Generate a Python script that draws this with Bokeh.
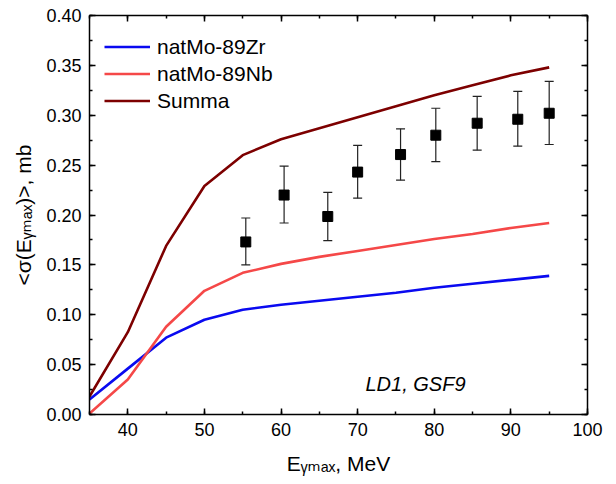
import math
from bokeh.plotting import figure
from bokeh.models import (Range1d, LinearAxis, SingleIntervalTicker, PrintfTickFormatter,
                          Legend, LegendItem, Label, Whisker, TeeHead, ColumnDataSource)
from bokeh.embed import file_html
from bokeh.resources import INLINE

# ---- data ----
e_calc = [35, 40, 45, 50, 55, 60, 65, 70, 75, 80, 85, 90, 95]
zr89 = [0.015, 0.046, 0.077, 0.095, 0.105, 0.110, 0.114, 0.118, 0.122, 0.127, 0.131, 0.135, 0.139]
nb89 = [0.001, 0.035, 0.088, 0.124, 0.142, 0.151, 0.158, 0.164, 0.170, 0.176, 0.181, 0.187, 0.192]
summa = [0.018, 0.0825, 0.169, 0.229, 0.260, 0.276, 0.287, 0.298, 0.309, 0.320, 0.330, 0.340, 0.348]

e_exp = [55.4, 60.4, 66.1, 70.0, 75.6, 80.2, 85.6, 90.9, 95.0]
y_exp = [0.173, 0.220, 0.1985, 0.243, 0.2606, 0.280, 0.292, 0.296, 0.302]
y_up = [0.197, 0.249, 0.2226, 0.2697, 0.2864, 0.307, 0.319, 0.324, 0.334]
y_lo = [0.150, 0.192, 0.1744, 0.2169, 0.2349, 0.2536, 0.265, 0.269, 0.2707]

series_names = ["natMo-89Zr", "natMo-89Nb", "Summa"]
x_title = "Eᵧₘₐₓ, MeV"
y_title = "<σ(Eᵧₘₐₓ)>, mb"
note = "LD1, GSF9"

# ---- layout ----
W, H = 616, 484
FL, FR, FT, FB = 89, 587, 15, 414
X0, X1, Y0, Y1 = 35, 100, 0.0, 0.4
FONT = "Liberation Sans"

def dx(cx):
    return X0 + (cx - FL) / (FR - FL) * (X1 - X0)

def dy(cy):
    return Y0 + (FB - cy) / (FB - FT) * (Y1 - Y0)

p = figure(width=W, height=H, output_backend="svg", toolbar_location=None,
           x_range=Range1d(X0, X1), y_range=Range1d(Y0, Y1),
           min_border_left=FL, min_border_right=W - FR,
           min_border_top=FT, min_border_bottom=H - FB,
           x_axis_location=None, y_axis_location=None)
p.grid.visible = False
p.outline_line_color = None
p.background_fill_color = "white"
p.border_fill_color = "white"

def style_axis(ax, labels=True):
    ax.axis_line_color = "black"
    ax.axis_line_width = 1.5
    ax.major_tick_line_color = "black"
    ax.minor_tick_line_color = "black"
    ax.major_tick_line_width = 1.5
    ax.minor_tick_line_width = 1.5
    ax.major_tick_in = 6
    ax.major_tick_out = 0
    ax.minor_tick_in = 3
    ax.minor_tick_out = 0
    ax.major_label_text_font = FONT
    if labels:
        ax.major_label_text_color = "black"
        ax.major_label_text_font_size = "18px"
        ax.major_label_standoff = 8
    else:
        ax.major_label_text_color = None
        ax.major_label_text_font_size = "2px"
        ax.major_label_standoff = 0
    ax.axis_label_text_font = FONT + ", DejaVu Sans"
    ax.axis_label_text_font_style = "normal"
    ax.axis_label_text_color = "black"
    ax.axis_label_text_font_size = "21px"

bx = LinearAxis(ticker=SingleIntervalTicker(interval=10, num_minor_ticks=2), axis_label=x_title)
style_axis(bx)
bx.axis_label_standoff = 13
p.add_layout(bx, "below")
tx = LinearAxis(ticker=SingleIntervalTicker(interval=10, num_minor_ticks=2))
style_axis(tx, labels=False)
p.add_layout(tx, "above")

ly = LinearAxis(ticker=SingleIntervalTicker(interval=0.05, num_minor_ticks=2),
                formatter=PrintfTickFormatter(format="%.2f"), axis_label=y_title)
style_axis(ly)
ly.axis_label_standoff = 8
p.add_layout(ly, "left")
ry = LinearAxis(ticker=SingleIntervalTicker(interval=0.05, num_minor_ticks=2))
style_axis(ry, labels=False)
p.add_layout(ry, "right")

colors = ["#0a0af0", "#f54848", "#7d0000"]
renderers = []
for ys, c in zip([zr89, nb89, summa], colors):
    r = p.line(e_calc, ys, line_color=c, line_width=2.6)
    renderers.append(r)

src = ColumnDataSource(dict(x=e_exp, y=y_exp, up=y_up, lo=y_lo))
wh = Whisker(source=src, base="x", upper="up", lower="lo", line_color="#222222", line_width=1.2,
             upper_head=TeeHead(size=9, line_color="#222222", line_width=1.2),
             lower_head=TeeHead(size=9, line_color="#222222", line_width=1.2))
p.add_layout(wh)
p.scatter("x", "y", source=src, marker="square", size=10, fill_color="black", line_color="black")

legend = Legend(items=[LegendItem(label=n, renderers=[r]) for n, r in zip(series_names, renderers)],
                location=(15, 300), margin=0, padding=4, spacing=0,
                glyph_width=46, glyph_height=27, label_height=27, label_standoff=7,
                label_text_font=FONT, label_text_font_size="21px", label_text_color="black",
                border_line_color=None, background_fill_alpha=0)
p.add_layout(legend)

p.add_layout(Label(x=dx(415), y=dy(383), text=note, text_font=FONT, text_font_size="20px",
                   text_font_style="italic", text_align="center", text_baseline="middle",
                   text_color="black"))

open("out.html", "w").write(file_html(p, INLINE))
